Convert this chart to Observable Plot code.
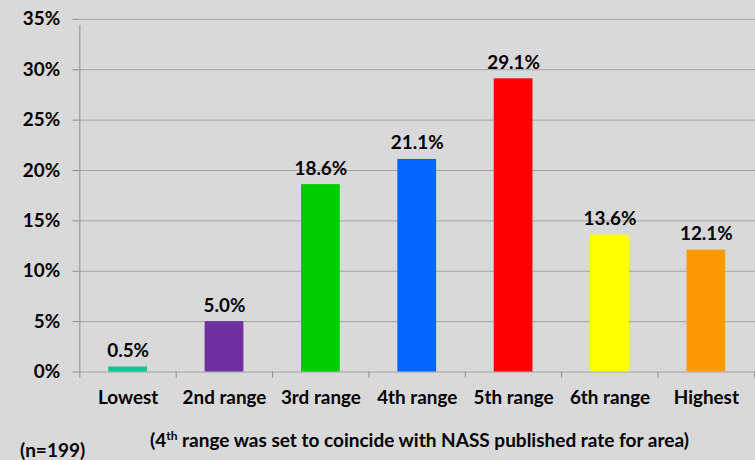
<!DOCTYPE html>
<html>
<head>
<meta charset="utf-8">
<script src="https://cdn.jsdelivr.net/npm/d3@7"></script>
<script src="https://cdn.jsdelivr.net/npm/@observablehq/plot@0.6"></script>
<style>
  html, body { margin: 0; padding: 0; background: #d9d9d9; overflow: hidden; }
  #wrap { position: relative; width: 755px; height: 460px; overflow: hidden; font-family: Lato, "Open Sans", sans-serif; font-weight: bold; color: #000; }
  #chart svg { display: block; }
  .note { position: absolute; font-size: 19px; white-space: nowrap; line-height: 1; }
  .note sup { font-size: 12px; vertical-align: 7px; line-height: 0; }
</style>
</head>
<body>
<div id="wrap">
  <div id="chart"></div>
  <div class="note" style="left:150px; top:430px;">(4<sup>th</sup> range was set to coincide with NASS published rate for area)</div>
  <div class="note" style="left:20px; top:440px;">(n=199)</div>
</div>
<script>
// Share of responses falling in each rate range
const categories = ["Lowest", "2nd range", "3rd range", "4th range", "5th range", "6th range", "Highest"];
const shares = [0.5, 5.0, 18.6, 21.1, 29.1, 13.6, 12.1];
const colors = ["#00c896", "#7030a0", "#00cc00", "#0066ff", "#ff0000", "#ffff00", "#ff9900"];
const yTicks = [0, 5, 10, 15, 20, 25, 30, 35];

const rows = categories.map((c, i) => ({category: c, share: shares[i], color: colors[i]}));

const width = 760, marginLeft = 79, marginRight = 0;
const step = (width - marginLeft - marginRight) / categories.length;
const font = "Lato, 'Open Sans', sans-serif";

const chart = Plot.plot({
  width,
  height: 420,
  marginLeft,
  marginRight,
  marginTop: 19,
  marginBottom: 46,
  style: {background: "#d9d9d9", fontFamily: font, fontWeight: "bold", fontSize: "19px", color: "#000"},
  x: {domain: categories, paddingInner: 0.6, paddingOuter: 0.3},
  y: {domain: [0, 35]},
  marks: [
    // horizontal gridlines, including the baseline at 0%
    Plot.ruleY(yTicks, {stroke: "#a3a3a3", strokeWidth: 1}),
    // y axis line, extending a little under the baseline
    Plot.ruleX([categories[0]], {x: d => d, dx: -step / 2, y1: 0, y2: 35, insetBottom: -6, stroke: "#8c8c8c"}),
    // category boundary ticks under the baseline
    Plot.ruleX(categories, {x: d => d, dx: -step / 2, y1: 0, y2: 0, insetBottom: -6, stroke: "#8c8c8c"}),
    Plot.ruleX([categories[categories.length - 1]], {x: d => d, dx: step / 2, y1: 0, y2: 0, insetBottom: -6, stroke: "#8c8c8c"}),
    Plot.axisY({ticks: yTicks, tickFormat: d => d + "%", tickSize: 6, tickPadding: 13, stroke: "#8c8c8c", label: null, fontSize: 19, fontWeight: "bold"}),
    Plot.axisX({tickSize: 0, tickPadding: 19, label: null, fontSize: 19, fontWeight: "bold"}),
    Plot.barY(rows, {x: "category", y: "share", fill: "color"}),
    Plot.text(rows, {x: "category", y: "share", text: d => d.share.toFixed(1) + "%", dy: -10, lineAnchor: "bottom", fontSize: 19, fontWeight: "bold", fill: "#000"})
  ]
});

document.getElementById("chart").append(chart);
</script>
</body>
</html>
